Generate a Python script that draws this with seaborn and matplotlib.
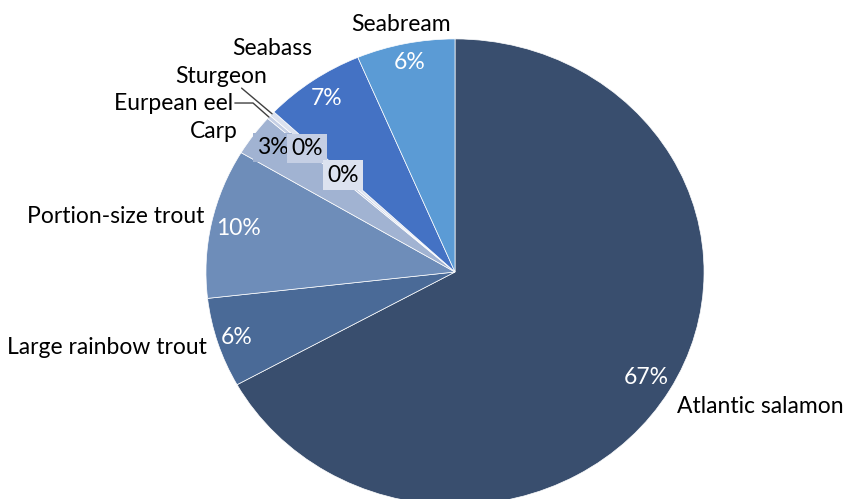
import numpy as np
import matplotlib
matplotlib.use("Agg")
import matplotlib.pyplot as plt
import seaborn as sns

# ---- data ----
categories = ["Atlantic salamon", "Large rainbow trout", "Portion-size trout", "Carp",
              "Eurpean eel", "Sturgeon", "Seabass", "Seabream"]
shares = [67.2, 6.25, 10.4, 2.9, 0.25, 0.35, 6.6, 6.4]

# ---- style ----
colors = ["#394E6E", "#4A6A97", "#6E8DB9", "#A1B3D2", "#C5CFE4", "#DCE2EF", "#4472C4", "#5B9BD5"]
pct_dist = [0.89, 0.92, 0.89, 0.906, 0.795, 0.613, 0.904, 0.918]
pct_color = ["white", "white", "white", "black", "black", "black", "white", "white"]
pct_box = [False, False, False, True, True, True, False, False]
# label anchors (data coords of the unit pie) and alignment
label_pos = [(0.892, -0.575, "left"), (-0.996, -0.322, "right"), (-1.008, 0.240, "right"),
             (-0.871, 0.601, "right"), (-0.892, 0.725, "right"), (-0.755, 0.837, "right"),
             (-0.574, 0.961, "right"), (-0.217, 1.060, "center")]

sns.set_theme(style="white")
plt.rcParams["font.family"] = ["Lato", "DejaVu Sans"]
FS = 16.5

fig = plt.figure(figsize=(8.46, 4.99), dpi=100)
ax = fig.add_axes([0, 0, 1, 1])
wedges, _ = ax.pie(shares, colors=colors, startangle=90, counterclock=False,
                   wedgeprops=dict(edgecolor="white", linewidth=0.5))
ax.set_aspect("auto")
ax.set_xlim(-1.827, 1.570)
ax.set_ylim(-0.974, 1.167)
ax.axis("off")

total = sum(shares)
for i, w in enumerate(wedges):
    th = np.deg2rad((w.theta1 + w.theta2) / 2)
    x, y = pct_dist[i] * np.cos(th), pct_dist[i] * np.sin(th)
    txt = f"{round(shares[i] / total * 100)}%"
    kw = {}
    if pct_box[i]:
        kw["bbox"] = dict(boxstyle="square,pad=0.18", facecolor=colors[i], edgecolor="none")
    ax.text(x, y, txt, ha="center", va="center", color=pct_color[i], fontsize=FS, **kw)
    lx, ly, ha = label_pos[i]
    ax.text(lx, ly, categories[i], ha=ha, va="center", color="black", fontsize=FS)

# leader lines for the tiny slices
for i, pts in [(4, [(-0.811, 0.725), (-0.884, 0.725)]), (5, [(-0.857, 0.789)])]:
    w = wedges[i]
    th = np.deg2rad((w.theta1 + w.theta2) / 2)
    xs = [np.cos(th)] + [p[0] for p in pts]
    ys = [np.sin(th)] + [p[1] for p in pts]
    ax.plot(xs, ys, color="#404040", lw=1.0)

fig.savefig("out.png", dpi=100)
